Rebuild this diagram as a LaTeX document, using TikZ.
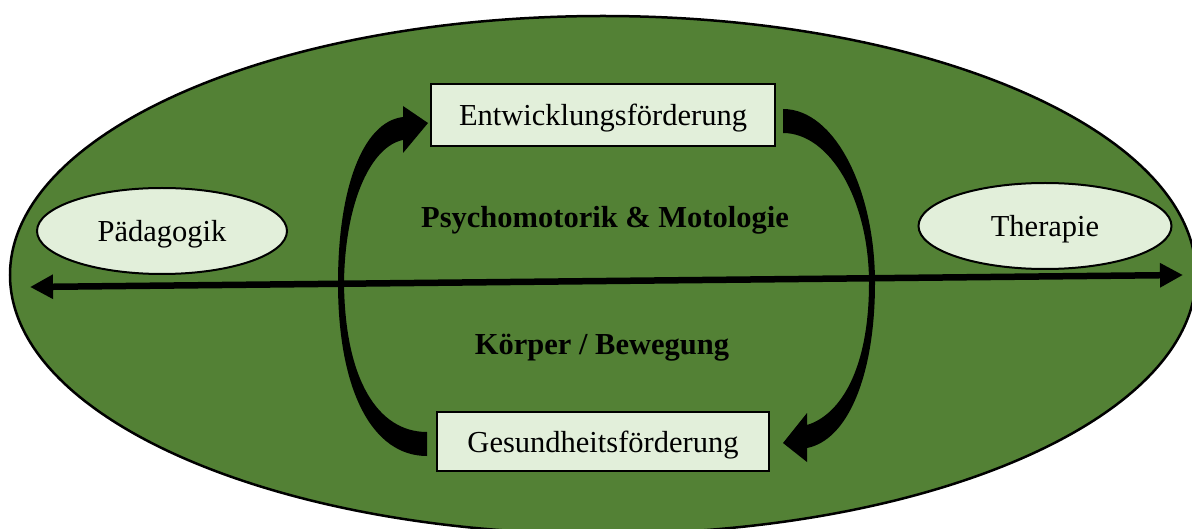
\documentclass[tikz,border=0pt]{standalone}
\usepackage{fontspec}
\setmainfont{Liberation Serif}
\usetikzlibrary{arrows.meta,shapes.geometric}
\definecolor{leaf}{HTML}{538135}
\definecolor{pale}{HTML}{E2EFDA}
\begin{document}
\begin{tikzpicture}[x=1pt,y=-1pt,
  txt/.style={font=\fontsize{30.5}{36}\selectfont, text=black, inner sep=0pt},
  boldtxt/.style={txt, font=\fontsize{30.5}{36}\selectfont\bfseries, anchor=base},
  framed/.style={txt, draw=black, line width=2pt, fill=pale, text height=22pt, text depth=1pt},
  fieldbox/.style={framed, rectangle},
  pole/.style={framed, ellipse},
  sweep/.style={fill=black},
  axis/.style={line width=6.5pt, {Triangle[length=23pt,width=23pt]}-{Triangle[length=23pt,width=23pt]}}
]
\useasboundingbox (0,0) rectangle (1192,529);

% outer field
\draw[fill=leaf, line width=2.5pt] (603,275) ellipse [x radius=593pt, y radius=259pt];

% the two promotion boxes
\node[fieldbox, minimum width=344pt, minimum height=62pt] (dev) at (603,115) {Entwicklungsförderung};
\node[fieldbox, minimum width=332pt, minimum height=59pt] (health) at (603,441.5) {Gesundheitsförderung};

% the two poles
\node[pole, minimum width=250pt, minimum height=86pt] (paed) at (162,231) {Pädagogik};
\node[pole, minimum width=253pt, minimum height=86pt] (ther) at (1045,226) {Therapie};

% central labels
\node[boldtxt] (psy) at (605,228) {Psychomotorik \& Motologie};
\node[boldtxt] (body) at (602,355) {Körper / Bewegung};

% curved arrow: health -> development (left side)
\fill[sweep] (427,456) .. controls (372,456) and (338,390) .. (338,283)
  .. controls (338,190) and (362,122) .. (403,117)
  -- (403,106) -- (428,123) -- (403,153) -- (403,140)
  .. controls (372,146) and (345,200) .. (344,283)
  .. controls (345,380) and (378,432) .. (427,432) -- cycle;

% curved arrow: development -> health (right side)
\fill[sweep] (783,109) .. controls (835,109) and (875,190) .. (875,283)
  .. controls (875,375) and (848,440) .. (807,448)
  -- (807,462) -- (783,443) -- (807,413) -- (807,425)
  .. controls (840,415) and (869,370) .. (869,283)
  .. controls (869,200) and (830,133) .. (783,133) -- cycle;

% axis between the poles
\coordinate (axL) at (30,287);
\coordinate (axR) at (1183,275);
\draw[axis] (axL) -- (axR);
\end{tikzpicture}
\end{document}
